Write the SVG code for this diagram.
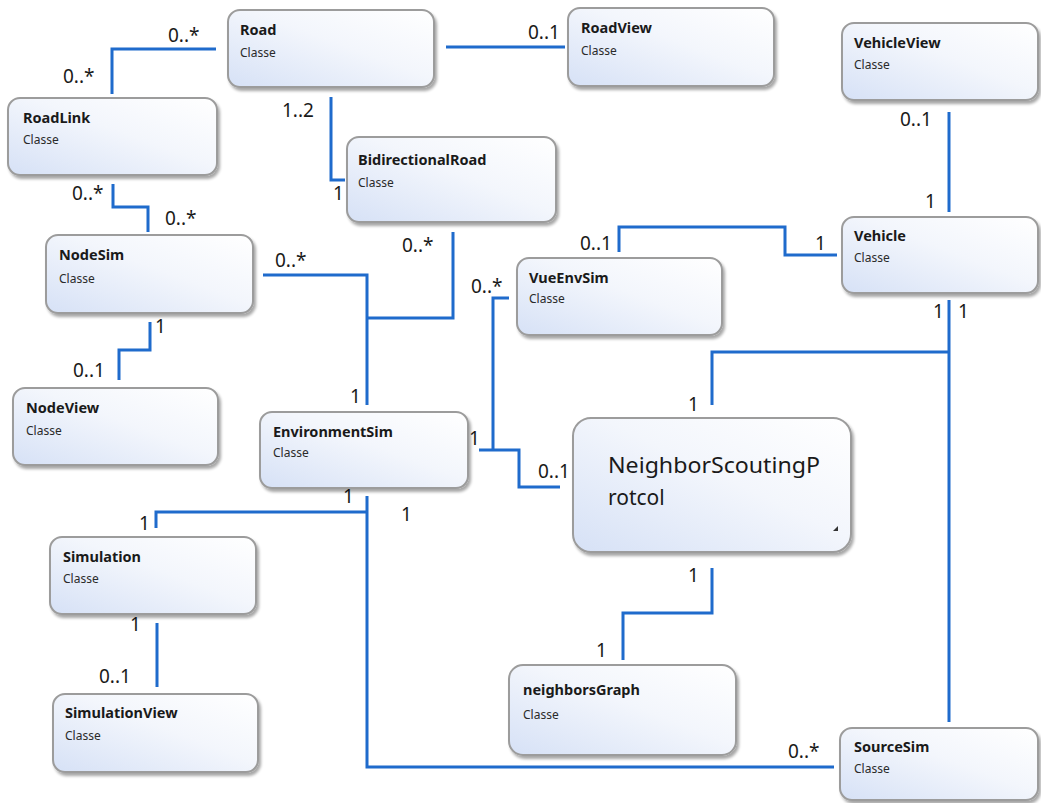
<svg xmlns="http://www.w3.org/2000/svg" width="1041" height="803" viewBox="0 0 1041 803">
  <defs>
    <linearGradient id="boxFill" x1="0" y1="1" x2="1" y2="0">
      <stop offset="0" stop-color="#d6e1f6"/>
      <stop offset="0.55" stop-color="#f3f6fc"/>
      <stop offset="1" stop-color="#ffffff"/>
    </linearGradient>
    <filter id="shadow" x="-10%" y="-10%" width="125%" height="130%">
      <feGaussianBlur in="SourceAlpha" stdDeviation="1.5"/>
      <feOffset dx="2" dy="3" result="off"/>
      <feComponentTransfer><feFuncA type="linear" slope="0.35"/></feComponentTransfer>
      <feMerge><feMergeNode/><feMergeNode in="SourceGraphic"/></feMerge>
    </filter>
  </defs>
  <style>
    .box { fill: url(#boxFill); stroke: #9c9c9c; stroke-width: 2; filter: url(#shadow); }
    .title { font-family: "Noto Sans", "Open Sans", sans-serif; font-weight: bold; font-size: 14.5px; fill: #1a1a1a; }
    .kind { font-family: "Noto Sans", "Open Sans", sans-serif; font-size: 12px; fill: #2a2a2a; }
    .big { font-family: "Noto Sans", "Open Sans", sans-serif; font-size: 21px; fill: #1a1a1a; }
    .conn { fill: none; stroke: #1f6bcc; stroke-width: 3; }
    .mult { font-family: "Noto Sans", "Open Sans", sans-serif; font-size: 19px; fill: #1a1a1a; }
  </style>
  <rect width="1041" height="803" fill="#ffffff"/>

  <!-- associations -->
  <g id="connectors">
    <polyline class="conn" points="216,49 112,49 112,94"/>
    <polyline class="conn" points="446,47 565,47"/>
    <polyline class="conn" points="331,97 331,180 345,180"/>
    <polyline class="conn" points="113,184 113,207 148,207 148,232"/>
    <polyline class="conn" points="263,275 367,275 367,405"/>
    <polyline class="conn" points="367,318 453,318 453,232"/>
    <polyline class="conn" points="150,322 150,350 119,350 119,380"/>
    <polyline class="conn" points="949,112 949,212"/>
    <polyline class="conn" points="837,255 785,255 785,227 619,227 619,252"/>
    <polyline class="conn" points="509,298 493,298 493,450"/>
    <polyline class="conn" points="479,450 519,450 519,487 560,487"/>
    <polyline class="conn" points="712,405 712,352 949,352"/>
    <polyline class="conn" points="949,300 949,722"/>
    <polyline class="conn" points="712,568 712,613 623,613 623,660"/>
    <polyline class="conn" points="367,496 367,767 834,767"/>
    <polyline class="conn" points="367,512 156,512 156,528"/>
    <polyline class="conn" points="157,623 157,687"/>

    <text class="mult" x="168" y="42">0..*</text>
    <text class="mult" x="63" y="83">0..*</text>
    <text class="mult" x="528" y="39">0..1</text>
    <text class="mult" x="282" y="117">1..2</text>
    <text class="mult" x="333" y="200">1</text>
    <text class="mult" x="72" y="200">0..*</text>
    <text class="mult" x="165" y="225">0..*</text>
    <text class="mult" x="275" y="267">0..*</text>
    <text class="mult" x="402" y="252">0..*</text>
    <text class="mult" x="350" y="403">1</text>
    <text class="mult" x="155" y="333">1</text>
    <text class="mult" x="73" y="377">0..1</text>
    <text class="mult" x="900" y="126">0..1</text>
    <text class="mult" x="925" y="208">1</text>
    <text class="mult" x="580" y="250">0..1</text>
    <text class="mult" x="815" y="250">1</text>
    <text class="mult" x="471" y="293">0..*</text>
    <text class="mult" x="469" y="445">1</text>
    <text class="mult" x="538" y="478">0..1</text>
    <text class="mult" x="933" y="318">1</text>
    <text class="mult" x="958" y="318">1</text>
    <text class="mult" x="688" y="411">1</text>
    <text class="mult" x="688" y="582">1</text>
    <text class="mult" x="596" y="657">1</text>
    <text class="mult" x="788" y="758">0..*</text>
    <text class="mult" x="139" y="530">1</text>
    <text class="mult" x="401" y="521">1</text>
    <text class="mult" x="343" y="503">1</text>
    <text class="mult" x="130" y="631">1</text>
    <text class="mult" x="99" y="683">0..1</text>
  </g>

  <!-- classes -->
  <g id="Road">
    <rect class="box" x="228" y="10" width="206" height="77" rx="12"/>
    <text class="title" x="240" y="35">Road</text>
    <text class="kind" x="240" y="57">Classe</text>
  </g>
  <g id="RoadView">
    <rect class="box" x="568" y="8" width="206" height="78" rx="12"/>
    <text class="title" x="581" y="33">RoadView</text>
    <text class="kind" x="581" y="55">Classe</text>
  </g>
  <g id="VehicleView">
    <rect class="box" x="842" y="23" width="196" height="77" rx="12"/>
    <text class="title" x="854" y="48">VehicleView</text>
    <text class="kind" x="854" y="69">Classe</text>
  </g>
  <g id="RoadLink">
    <rect class="box" x="8" y="98" width="209" height="77" rx="12"/>
    <text class="title" x="23" y="123">RoadLink</text>
    <text class="kind" x="23" y="144">Classe</text>
  </g>
  <g id="BidirectionalRoad">
    <rect class="box" x="347" y="137" width="209" height="85" rx="12"/>
    <text class="title" x="358" y="165">BidirectionalRoad</text>
    <text class="kind" x="358" y="187">Classe</text>
  </g>
  <g id="NodeSim">
    <rect class="box" x="46" y="235" width="207" height="78" rx="12"/>
    <text class="title" x="59" y="260">NodeSim</text>
    <text class="kind" x="59" y="283">Classe</text>
  </g>
  <g id="Vehicle">
    <rect class="box" x="842" y="217" width="196" height="76" rx="12"/>
    <text class="title" x="854" y="241">Vehicle</text>
    <text class="kind" x="854" y="262">Classe</text>
  </g>
  <g id="VueEnvSim">
    <rect class="box" x="517" y="258" width="205" height="77" rx="12"/>
    <text class="title" x="529" y="283">VueEnvSim</text>
    <text class="kind" x="529" y="303">Classe</text>
  </g>
  <g id="NodeView">
    <rect class="box" x="13" y="388" width="205" height="77" rx="12"/>
    <text class="title" x="26" y="413">NodeView</text>
    <text class="kind" x="26" y="435">Classe</text>
  </g>
  <g id="EnvironmentSim">
    <rect class="box" x="260" y="412" width="208" height="76" rx="12"/>
    <text class="title" x="273" y="437">EnvironmentSim</text>
    <text class="kind" x="273" y="457">Classe</text>
  </g>
  <g id="NeighborScoutingProtocol">
    <rect class="box" x="573" y="418" width="278" height="134" rx="18"/>
    <text class="big" x="608" y="473" textLength="212" lengthAdjust="spacingAndGlyphs">NeighborScoutingP</text>
    <text class="big" x="608" y="505">rotcol</text>
    <path d="M838,526 L838,531 L833,531 Z" fill="#333"/>
  </g>
  <g id="Simulation">
    <rect class="box" x="50" y="537" width="206" height="77" rx="12"/>
    <text class="title" x="63" y="562">Simulation</text>
    <text class="kind" x="63" y="583">Classe</text>
  </g>
  <g id="SimulationView">
    <rect class="box" x="53" y="694" width="205" height="78" rx="12"/>
    <text class="title" x="65" y="718">SimulationView</text>
    <text class="kind" x="65" y="740">Classe</text>
  </g>
  <g id="neighborsGraph">
    <rect class="box" x="509" y="665" width="227" height="90" rx="14"/>
    <text class="title" x="523" y="695">neighborsGraph</text>
    <text class="kind" x="523" y="719">Classe</text>
  </g>
  <g id="SourceSim">
    <rect class="box" x="840" y="728" width="198" height="72" rx="12"/>
    <text class="title" x="854" y="752">SourceSim</text>
    <text class="kind" x="854" y="773">Classe</text>
  </g>
</svg>
